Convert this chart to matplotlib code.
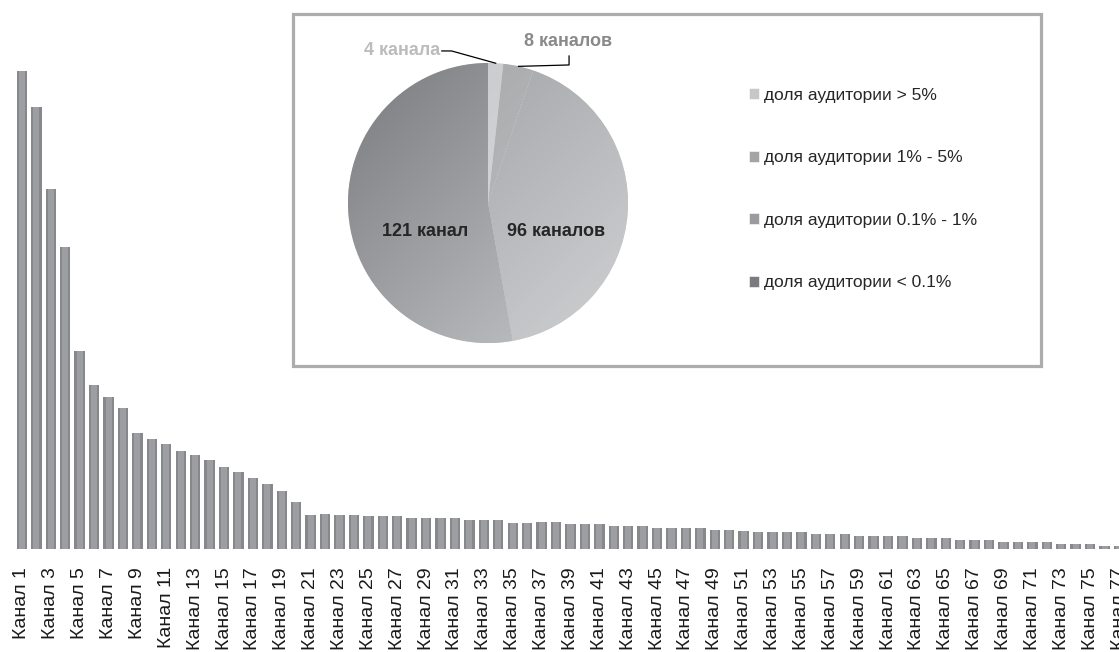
import numpy as np
import matplotlib
matplotlib.use("Agg")
import matplotlib.pyplot as plt
from matplotlib.colors import LinearSegmentedColormap
from matplotlib.patches import Rectangle

plt.rcParams['font.family'] = ['Liberation Sans', 'DejaVu Sans']

# audience per channel (relative units)
channel_values = [
    47.8, 44.2, 36.0, 30.2, 19.8, 16.4, 15.2, 14.1, 11.6, 11.0,
    10.5, 9.8, 9.4, 8.9, 8.2, 7.7, 7.1, 6.5, 5.8, 4.7,
    3.4, 3.5, 3.4, 3.4, 3.3, 3.3, 3.3, 3.1, 3.1, 3.1,
    3.1, 2.9, 2.9, 2.9, 2.6, 2.6, 2.7, 2.7, 2.5, 2.5,
    2.5, 2.3, 2.3, 2.3, 2.1, 2.1, 2.1, 2.1, 1.9, 1.9,
    1.8, 1.7, 1.7, 1.7, 1.7, 1.5, 1.5, 1.5, 1.3, 1.3,
    1.3, 1.3, 1.1, 1.1, 1.1, 0.9, 0.9, 0.9, 0.7, 0.7,
    0.7, 0.7, 0.5, 0.5, 0.5, 0.3, 0.3,
]
channel_names = [f"Канал {i}" for i in range(1, len(channel_values) + 1)]

# pie: number of channels per audience-share group
group_counts = [4, 8, 96, 121]
group_labels = ["доля аудитории > 5%", "доля аудитории 1% - 5%",
                "доля аудитории 0.1% - 1%", "доля аудитории < 0.1%"]
slice_texts = ["4 канала", "8 каналов", "96 каналов", "121 канал"]
slice_colors = [("#c6c7c9", "#dddee0"), ("#a3a4a6", "#c4c5c7"),
                ("#9a9b9e", "#d0d1d3"), ("#7a7b7e", "#c8c9cb")]

W, H = 1119, 652
fig = plt.figure(figsize=(W / 100, H / 100), dpi=100)

# ---- bar chart over the whole figure ----
ax = fig.add_axes([0, 103 / H, 1, 1 - 103 / H])
x = np.arange(1, len(channel_values) + 1)
ax.bar(x, channel_values, width=0.72, color="#87888b", zorder=2)
ax.bar(x, channel_values, width=0.42, color="#9d9ea1", zorder=3)
ax.set_xlim(-0.52, 76.92)
ax.set_ylim(0, 54.9)
ax.set_xticks(x[::2])
ax.set_xticklabels(channel_names[::2], rotation=90, fontsize=14, color="#1a1a1a")
ax.tick_params(axis="x", length=0, pad=13)
ax.set_yticks([])
for s in ax.spines.values():
    s.set_visible(False)

# frame of the inset
frame = Rectangle((292.5 / W, (H - 366) / H), (1041 - 292.5) / W, (366 - 13.5) / H,
                  transform=fig.transFigure, fill=False, edgecolor="#abacae",
                  linewidth=2.3, clip_on=False, zorder=5)
ax.add_patch(frame)

# ---- pie inset ----
cx, cy, r = 488, 203, 140
pax = fig.add_axes([(cx - r) / W, (H - cy - r) / H, 2 * r / W, 2 * r / H])
wedges, _ = pax.pie(group_counts, startangle=90, counterclock=False,
                    colors=[c[0] for c in slice_colors],
                    wedgeprops=dict(edgecolor="white", linewidth=0.4))

gx, gy = np.meshgrid(np.linspace(0, 1, 200), np.linspace(0, 1, 200))
grad = (gx + gy) / 2
for w, (c0, c1) in zip(wedges, slice_colors):
    cmap = LinearSegmentedColormap.from_list("g", [c0, c1])
    im = pax.imshow(grad, extent=(-1, 1, -1, 1), origin="upper", cmap=cmap,
                    vmin=0, vmax=1, zorder=1)
    im.set_clip_path(w)
    w.set_facecolor(c0)
    w.set_zorder(0)
pax.set_xlim(-1, 1)
pax.set_ylim(-1, 1)
pax.set_axis_off()

def edge_point(w):
    a = np.deg2rad((w.theta1 + w.theta2) / 2)
    return np.cos(a), np.sin(a)

# small slices with leader lines
ex, ey = edge_point(wedges[0])
pax.plot([-0.33, -0.26, ex], [1.086, 1.086, ey], color="black", lw=0.9, clip_on=False)
pax.text(-0.34, 1.086, slice_texts[0], ha="right", va="center", fontsize=13,
         fontweight="bold", color="#bcbcbc")
ex, ey = edge_point(wedges[1])
pax.plot([0.579, 0.579, ex], [1.05, 0.986, ey], color="black", lw=0.9, clip_on=False)
pax.text(0.571, 1.15, slice_texts[1], ha="center", va="center", fontsize=13,
         fontweight="bold", color="#8a8a8a")

pax.text(0.486, -0.207, slice_texts[2], ha="center", va="center", fontsize=13,
         fontweight="bold", color="#262626")
pax.text(-0.45, -0.207, slice_texts[3], ha="center", va="center", fontsize=13,
         fontweight="bold", color="#262626")

pax.legend(wedges, group_labels, loc="upper left",
           bbox_to_anchor=(740 / W, (H - 79) / H), bbox_transform=fig.transFigure,
           frameon=False, fontsize=12.5, borderpad=0, handlelength=0.6,
           handleheight=0.6, handletextpad=0.3, labelspacing=2.74,
           labelcolor="#262626")

fig.savefig("out.png", dpi=100)
